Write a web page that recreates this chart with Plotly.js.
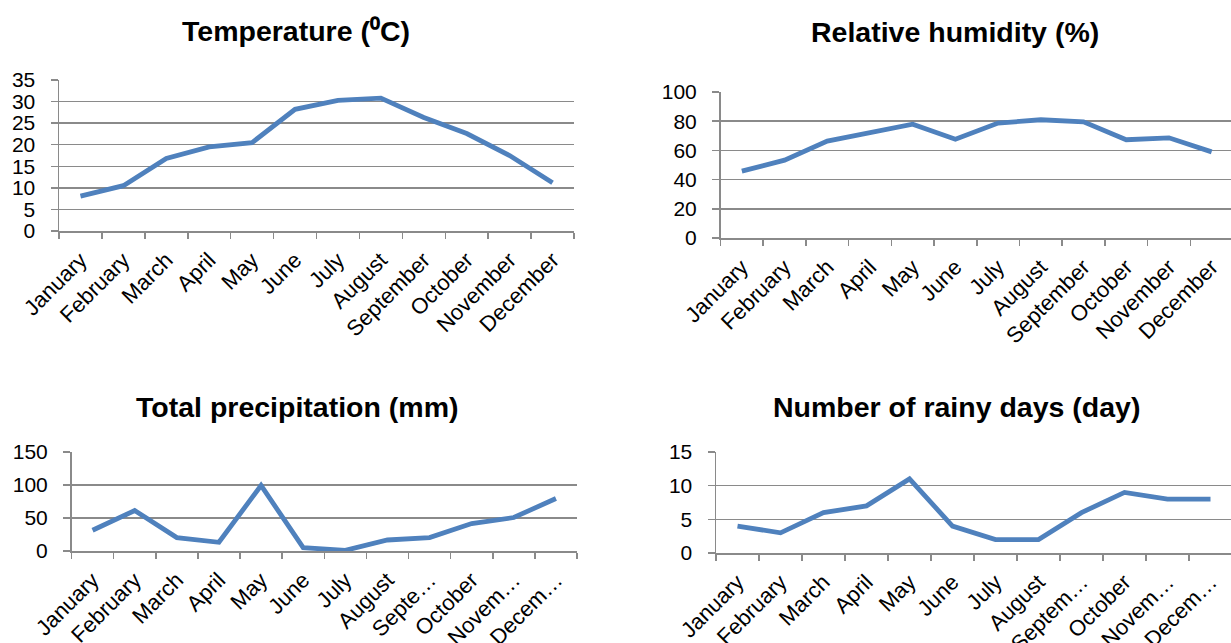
<!DOCTYPE html>
<html>
<head>
<meta charset="utf-8">
<script src="https://cdn.plot.ly/plotly-3.0.1.min.js"></script>
<style>
html,body{margin:0;padding:0;background:#fff;overflow:hidden;}
#chart{width:1240px;height:643px;}
</style>
</head>
<body>
<div id="chart"></div>
<script>
const months = ['January','February','March','April','May','June','July','August','September','October','November','December'];
const labelsTop = ['January','February','March','April','May','June','July','August','September','October','November','December'];
const labelsPrecip = ['January','February','March','April','May','June','July','August','Septe…','October','Novem…','Decem…'];
const labelsRainy = ['January','February','March','April','May','June','July','August','Septem…','October','Novem…','Decem…'];

const temperature = [8.1, 10.5, 16.8, 19.5, 20.5, 28.2, 30.3, 30.8, 26.3, 22.6, 17.5, 11.2];
const humidity = [45.8, 53.3, 66.4, 72.3, 78.0, 67.7, 78.7, 81.0, 79.6, 67.3, 68.6, 59.0];
const precipitation = [31.4, 61.3, 20.3, 13.2, 99.3, 5.0, 1.0, 16.7, 20.3, 41.6, 50.7, 79.6];
const rainyDays = [4, 3, 6, 7, 11, 4, 2, 2, 6, 9, 8, 8];

const titles = ['Temperature (⁰C)', 'Relative humidity (%)', 'Total precipitation (mm)', 'Number of rainy days (day)'];

const W = 1240, H = 643;
const FONT = 'Liberation Sans, Arial, sans-serif';
const LINE = '#4F81BD';
const GRID = '#8a8a8a';

function trace(y, n) {
  return {
    x: months, y: y, type: 'scatter', mode: 'lines',
    line: {color: LINE, width: 4.8},
    xaxis: 'x' + (n === 1 ? '' : n), yaxis: 'y' + (n === 1 ? '' : n),
    hoverinfo: 'skip', showlegend: false
  };
}

function xax(x0, x1, ticktext) {
  return {
    type: 'category', domain: [x0 / W, x1 / W],
    range: [-0.5, 11.5], showgrid: false, zeroline: false,
    showline: true, linecolor: GRID, linewidth: 1.5,
    ticks: 'outside', tickson: 'boundaries', ticklen: 6, tickcolor: GRID, tickwidth: 1.5,
    tickangle: -45, tickvals: months, ticktext: ticktext, ticklabelstandoff: 6,
    tickfont: {family: FONT, size: 22, color: '#000'}, fixedrange: true
  };
}

function yax(top, bottom, maxV, dtick) {
  return {
    domain: [1 - bottom / H, 1 - top / H], range: [0, maxV], dtick: dtick,
    showgrid: true, gridcolor: GRID, gridwidth: 1.5, zeroline: false,
    showline: true, linecolor: GRID, linewidth: 1.5,
    ticks: 'outside', ticklen: 7, tickcolor: GRID, tickwidth: 1.5, ticklabelstandoff: 11,
    tickfont: {family: FONT, size: 21, color: '#000'}, fixedrange: true
  };
}

const layout = {
  width: W, height: H, margin: {l: 0, r: 0, t: 0, b: 0},
  paper_bgcolor: '#fff', plot_bgcolor: 'rgba(0,0,0,0)',
  xaxis: Object.assign(xax(59, 574, labelsTop), {anchor: 'y'}),
  yaxis: Object.assign(yax(80, 231, 35, 5), {anchor: 'x'}),
  xaxis2: Object.assign(xax(720.5, 1233, labelsTop), {anchor: 'y2'}),
  yaxis2: Object.assign(yax(92, 238, 100, 20), {anchor: 'x2'}),
  xaxis3: Object.assign(xax(71.5, 577, labelsPrecip), {anchor: 'y3'}),
  yaxis3: Object.assign(yax(452, 551, 150, 50), {anchor: 'x3'}),
  xaxis4: Object.assign(xax(716, 1232, labelsRainy), {anchor: 'y4'}),
  yaxis4: Object.assign(yax(452, 553, 15, 5), {anchor: 'x4'}),
  annotations: [
    [296, 31], [955, 32], [297, 407], [956, 407]
  ].map((p, i) => ({
    text: '<b>' + titles[i] + '</b>', xref: 'paper', yref: 'paper',
    x: p[0] / W, y: 1 - p[1] / H, xanchor: 'center', yanchor: 'middle',
    showarrow: false, font: {family: FONT, size: 28.5, color: '#000'}
  }))
};

Plotly.newPlot('chart', [
  trace(temperature, 1), trace(humidity, 2), trace(precipitation, 3), trace(rainyDays, 4)
], layout, {displayModeBar: false, staticPlot: true});
</script>
</body>
</html>
